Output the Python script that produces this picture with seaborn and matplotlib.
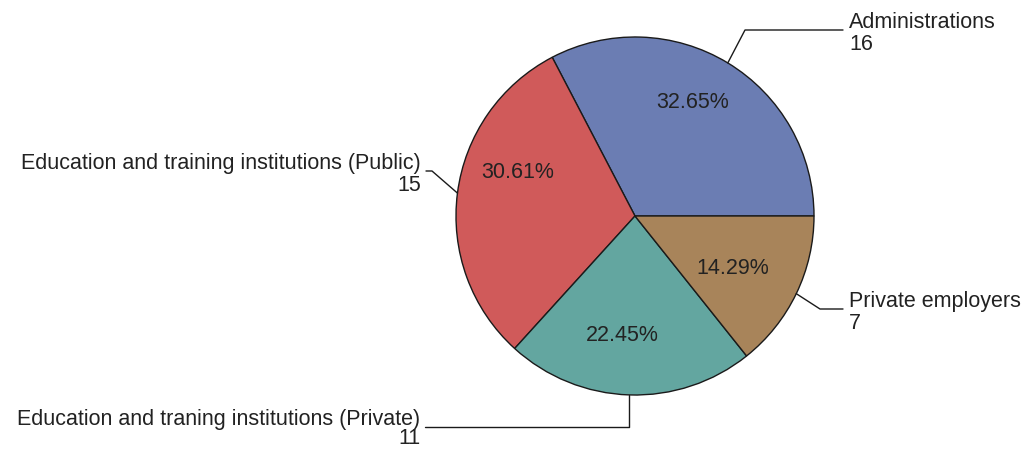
import numpy as np
import matplotlib
matplotlib.use("Agg")
import matplotlib.pyplot as plt
import seaborn as sns

categories = ["Administrations",
              "Education and training institutions (Public)",
              "Education and traning institutions (Private)",
              "Private employers"]
values = [16, 15, 11, 7]
colors = ["#6b7db3", "#d05a5a", "#63a6a0", "#a8845a"]

sns.set_theme(style="white")
plt.rcParams['font.family'] = ['Liberation Sans', 'DejaVu Sans']

W, H = 1028, 449
fig = plt.figure(figsize=(W / 100, H / 100), dpi=100)
ax = fig.add_axes([0, 0, 1, 1])

cx, cy, R = 635, H - 216, 179
wedges, texts, autotexts = ax.pie(
    values, colors=colors, startangle=0, counterclock=True,
    center=(cx, cy), radius=R, autopct="%.2f%%", pctdistance=0.69,
    wedgeprops=dict(edgecolor="#1a1a1a", linewidth=1.0),
    textprops=dict(fontsize=15.5, color="#222222"), frame=True)
ax.set_xlim(0, W)
ax.set_ylim(0, H)
ax.set_aspect("equal")
ax.axis("off")

# percentage label placement: (angle offset deg, radius fraction)
pct_place = [(4.4, 0.71), (-12.9, 0.70), (-4.4, 0.67), (-2.3, 0.62)]

# Leader line layout (pixel coords from top-left); vgap = value baseline below line
layout = [
    dict(elbow=(745, 30), end=(843, 30), tx=849, ha="left", vgap=20),
    dict(elbow=(432, 171), end=(426, 171), tx=421, ha="right", vgap=20),
    dict(elbow=None, end=(425, 427), tx=420, ha="right", vgap=17),
    dict(elbow=(820, 309), end=(843, 309), tx=849, ha="left", vgap=20),
]
total = sum(values)
start = 0.0
for i, (cat, v) in enumerate(zip(categories, values)):
    span = 360.0 * v / total
    mid_deg = start + span / 2
    mid = np.deg2rad(mid_deg)
    start += span
    da, rf = pct_place[i]
    a = np.deg2rad(mid_deg + da)
    autotexts[i].set_position((cx + rf * R * np.cos(a), cy + rf * R * np.sin(a)))
    ex, ey = cx + R * np.cos(mid), cy + R * np.sin(mid)
    L = layout[i]
    endx, endy = L["end"][0], H - L["end"][1]
    if L["elbow"] is None:
        elx, ely = ex, endy
    else:
        elx, ely = L["elbow"][0], H - L["elbow"][1]
    ax.plot([ex, elx, endx], [ey, ely, endy], color="#1a1a1a", lw=1.0)
    ax.text(L["tx"], endy + 2, cat, ha=L["ha"], va="baseline",
            fontsize=15.5, color="#222222")
    ax.text(L["tx"], endy - L["vgap"], str(v), ha=L["ha"], va="baseline",
            fontsize=15.5, color="#222222")

fig.savefig("out.png", dpi=100, facecolor="white")
